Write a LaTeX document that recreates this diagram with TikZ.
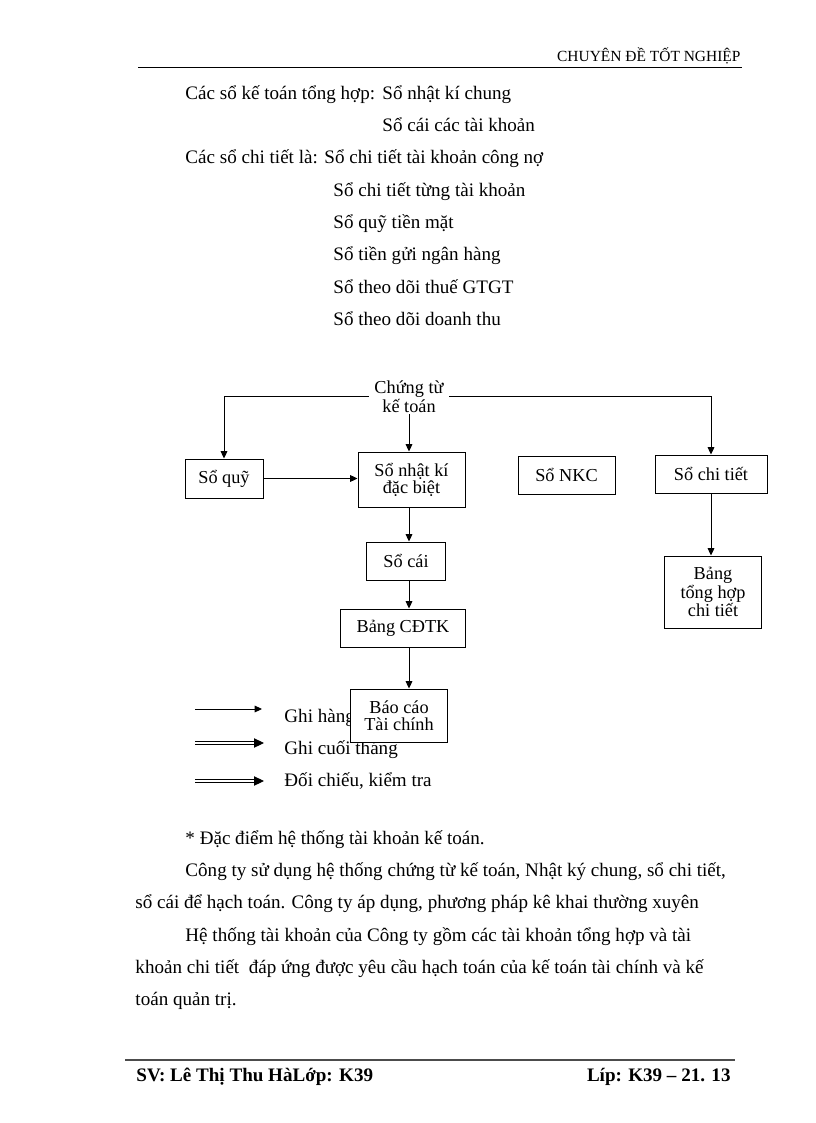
\documentclass[tikz,border=0pt]{standalone}
\usepackage{fontspec}
\setmainfont{Liberation Serif}
\usetikzlibrary{arrows.meta,positioning}
\begin{document}
\begin{tikzpicture}[x=0.75pt, y=-0.75pt, line width=0.7pt,
    every node/.style={inner sep=0pt},
    bodytext/.style={anchor=base west, font=\fontsize{14.3}{17}\selectfont},
    ledger/.style={draw, fill=white, align=center, font=\fontsize{13.7}{12.8}\selectfont},
    boxsize/.style 2 args={minimum width=#1*0.75pt, minimum height=#2*0.75pt},
    flow/.style={-{Triangle[length=5.5pt,width=5pt]}},
    twinline/.style={double, double distance=1.2pt},
    twintip/.style={-{Triangle[length=7.5pt,width=7pt]}}]
  \useasboundingbox[fill=white] (0,0) rectangle (816,1123);

  % header
  \node[anchor=base east, font=\fontsize{11.6}{14}\selectfont] (header) at (741,62) {CHUYÊN ĐỀ TỐT NGHIỆP};
  \draw (138,67) -- (742,67);

  % list of ledgers
  \node[bodytext] (tonghop) at (185,100) {Các sổ kế toán tổng hợp:};
  \node[bodytext] (tonghop-1) at (382,100) {Sổ nhật kí chung};
  \node[bodytext] (tonghop-2) at (382,132) {Sổ cái các tài khoản};
  \node[bodytext] (chitiet) at (185,164) {Các sổ chi tiết là:};
  \node[bodytext] (chitiet-1) at (324,164) {Sổ chi tiết tài khoản công nợ};
  \foreach \name [count=\i from 2] in {Sổ chi tiết từng tài khoản, Sổ quỹ tiền mặt,
      Sổ tiền gửi ngân hàng, Sổ theo dõi thuế GTGT, Sổ theo dõi doanh thu}
    \node[bodytext] (chitiet-\i) at (333,{164+32.25*(\i-1)}) {\name};

  % flow chart
  \node[align=center, fill=white, inner xsep=4pt, inner ysep=1pt,
        font=\fontsize{13.7}{12.8}\selectfont] (chungtu) at (409,396.5) {Chứng từ\\kế toán};
  \node[ledger, boxsize={78}{39}] (soquy) at (224,478.5) {Sổ quỹ};
  \node[ledger, boxsize={107}{55}] (nkdb) at (411.5,479.5) {Sổ nhật kí\\đặc biệt};
  \node[ledger, boxsize={97}{38}] (nkc) at (566.5,475) {Sổ NKC};
  \node[ledger, boxsize={112}{38}] (sochitiet) at (711,474) {Sổ chi tiết};
  \node[ledger, boxsize={97}{72}] (thchitiet) at (713,592) {Bảng\\tổng hợp\\chi tiết};
  \node[ledger, boxsize={79}{38}] (socai) at (406,561) {Sổ cái};
  \node[ledger, boxsize={125}{38}] (cdtk) at (403,628) {Bảng CĐTK};

  % legend
  \coordinate (key-1) at (195,709);
  \coordinate (key-1-end) at (262,709);
  \draw[flow] (key-1) -- (key-1-end);
  \foreach \index/\ypos in {2/743, 3/781} {
    \coordinate (key-\index) at (195,\ypos);
    \coordinate (key-\index-base) at (254,\ypos);
    \coordinate (key-\index-end) at (264,\ypos);
    \draw[twinline] (key-\index) -- (key-\index-base);
    \draw[twintip] (key-\index-base) -- (key-\index-end);
  }
  \node[bodytext] (key-text-1) at (284,722) {Ghi hàng};
  \node[bodytext] (key-text-2) at (284,754) {Ghi cuối tháng};
  \node[bodytext] (key-text-3) at (284,786) {Đối chiếu, kiểm tra};

  \node[ledger, boxsize={97}{53}] (bctc) at (399,715.5) {Báo cáo\\Tài chính};

  \draw[flow] (chungtu.west) -| (soquy.north);
  \draw[flow] (chungtu.east) -| (sochitiet.north);
  \draw[flow] (chungtu) -- (chungtu |- nkdb.north);
  \draw[flow] (soquy.east) -- (soquy.east -| nkdb.west);
  \draw[flow] (chungtu |- nkdb.south) -- (chungtu |- socai.north);
  \draw[flow] (chungtu |- socai.south) -- (chungtu |- cdtk.north);
  \draw[flow] (chungtu |- cdtk.south) -- (chungtu |- bctc.north);
  \draw[flow] (sochitiet.south) -- (sochitiet.south |- thchitiet.north);

  % text below
  \node[bodytext] (dacdiem) at (185,844) {* Đặc điểm hệ thống tài khoản kế toán.};
  \node[bodytext] (para-1) at (185,876) {Công ty sử dụng hệ thống chứng từ kế toán, Nhật ký chung, sổ chi tiết,};
  \node[bodytext] (para-2) at (135,908) {sổ cái để hạch toán. Công ty áp dụng, phương pháp kê khai thường xuyên};
  \node[bodytext] (para-3) at (185,941) {Hệ thống tài khoản của Công ty gồm các tài khoản tổng hợp và tài};
  \node[bodytext] (para-4) at (135,973) {khoản chi tiết\ \ đáp ứng được yêu cầu hạch toán của kế toán tài chính và kế};
  \node[bodytext] (para-5) at (135,1005) {toán quản trị.};

  % footer
  \draw[line width=1.3pt, black!70] (125,1060) -- (735,1060);
  \node[bodytext, font=\bfseries\fontsize{14.3}{17}\selectfont] (sv) at (136,1081) {SV: Lê Thị Thu HàLớp: K39};
  \node[anchor=base east, font=\bfseries\fontsize{14.3}{17}\selectfont] (lop) at (731,1081) {Líp: K39 – 21. 13};
\end{tikzpicture}
\end{document}
